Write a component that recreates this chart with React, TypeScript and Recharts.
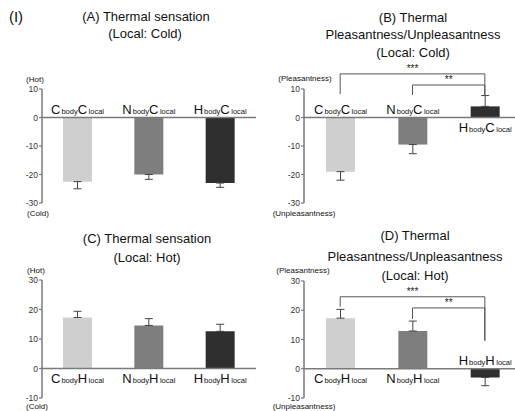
import React from 'react';
import { BarChart, Bar, XAxis, YAxis, Cell, ErrorBar, LabelList, ReferenceLine } from 'recharts';

// body condition of each bar (C = cold, N = neutral, H = hot)
const bodyConditions = ['C', 'N', 'H'];
const BAR_COLORS = ['#cfcfcf', '#7e7e7e', '#2f2f2f'];

// (A) thermal sensation, local cold
const sensationCold = [-22.5, -20, -23];
const sensationColdErr = [2.5, 1.7, 1.5];
// (B) pleasantness, local cold
const pleasantCold = [-19, -9.5, 3.9];
const pleasantColdErr = [3, 3.2, 3.8];
// (C) thermal sensation, local hot
const sensationHot = [17.3, 14.6, 12.6];
const sensationHotErr = [2.1, 2.3, 2.4];
// (D) pleasantness, local hot
const pleasantHot = [17.3, 12.9, -3];
const pleasantHotErr = [3, 3.4, 2.8];

const coldTicks = [-30, -20, -10, 0, 10];
const hotTicks = [-10, 0, 10, 20, 30];

// significance brackets: [from, to, height, left drop, right drop, stars]
const bracketsB: [string, string, number, number, number, string][] = [
  ['C', 'H', 15.3, 8.2, 7.6, '***'],
  ['N', 'H', 11.4, 7.9, 7.6, '**'],
];
const bracketsD: [string, string, number, number, number, string][] = [
  ['C', 'H', 24.6, 21.2, 9.6, '***'],
  ['N', 'H', 20.8, 17, 9.6, '**'],
];

const FONT = '"Liberation Sans", Arial, sans-serif';

const makeLabel = (local: string, values: number[]) => (props: any) => {
  const x = Number(props.x);
  const y = Number(props.y);
  const w = Number(props.width);
  const h = Number(props.height);
  const v = values[props.index];
  const top = Math.min(y, y + h);
  const bottom = Math.max(y, y + h);
  const ty = v < 0 ? top - 4 : bottom + 14;
  return (
    <text x={x + w / 2} y={ty} textAnchor="middle" fill="#111" fontFamily={FONT}>
      <tspan fontSize={13}>{props.value}</tspan>
      <tspan fontSize={7.5} dx={1}>body</tspan>
      <tspan fontSize={13}>{local}</tspan>
      <tspan fontSize={7.5} dx={1.5}>local</tspan>
    </text>
  );
};

interface PanelProps {
  left: number;
  top: number;
  width: number;
  height: number;
  marginTop: number;
  marginBottom: number;
  axisWidth: number;
  values: number[];
  errs: number[];
  domain: [number, number];
  ticks: number[];
  local: string;
  brackets?: [string, string, number, number, number, string][];
}

function Panel({ left, top, width, height, marginTop, marginBottom, axisWidth, values, errs, domain, ticks, local, brackets = [] }: PanelProps) {
  const data = bodyConditions.map((name, i) => ({
    name,
    value: values[i],
    errRange: values[i] < 0 ? [errs[i], 0] : [0, errs[i]],
  }));
  return (
    <div style={{ position: 'absolute', left, top }}>
      <BarChart width={width} height={height} data={data} margin={{ top: marginTop, bottom: marginBottom, left: 0, right: 0 }}>
        <XAxis dataKey="name" hide />
        <YAxis
          width={axisWidth}
          domain={domain}
          ticks={ticks}
          interval={0}
          tickSize={3}
          tickMargin={1}
          axisLine={{ stroke: '#7a7a7a', strokeWidth: 1.5 }}
          tickLine={{ stroke: '#7a7a7a', strokeWidth: 1.2 }}
          tick={{ fontSize: 8.5, fill: '#333', fontFamily: FONT }}
        />
        <Bar dataKey="value" barSize={29} isAnimationActive={false}>
          {data.map((d, i) => (
            <Cell key={d.name} fill={BAR_COLORS[i]} />
          ))}
          <ErrorBar dataKey="errRange" width={4} stroke="#444" strokeWidth={1} direction="y" />
          <LabelList dataKey="name" content={makeLabel(local, values)} />
        </Bar>
        <ReferenceLine y={0} stroke="#7a7a7a" strokeWidth={1.5} />
        {brackets.map(([from, to, yh, dl, dr, stars]) => (
          <React.Fragment key={from + to}>
            <ReferenceLine
              segment={[{ x: from, y: yh }, { x: to, y: yh }]}
              stroke="#555"
              strokeWidth={1}
              ifOverflow="visible"
              label={{ value: stars, position: 'top', fontSize: 10, fill: '#222', offset: 2, fontFamily: FONT }}
            />
            <ReferenceLine segment={[{ x: from, y: yh }, { x: from, y: dl }]} stroke="#555" strokeWidth={1} ifOverflow="visible" />
            <ReferenceLine segment={[{ x: to, y: yh }, { x: to, y: dr }]} stroke="#555" strokeWidth={1} ifOverflow="visible" />
          </React.Fragment>
        ))}
      </BarChart>
    </div>
  );
}

function Text({ x, y, children, size = 13 }: { x: number; y: number; children: React.ReactNode; size?: number }) {
  return (
    <div
      style={{
        position: 'absolute',
        left: x - 150,
        top: y - size * 0.6,
        width: 300,
        textAlign: 'center',
        fontSize: size,
        lineHeight: `${size * 1.2}px`,
        color: '#111',
        whiteSpace: 'nowrap',
      }}
    >
      {children}
    </div>
  );
}

export default function App() {
  return (
    <div style={{ position: 'absolute', left: 0, top: 0, width: 515, height: 411, overflow: 'hidden', background: '#fff', fontFamily: FONT }}>
      <Text x={16} y={17} size={15}>(I)</Text>

      <Text x={146} y={17}>(A) Thermal sensation</Text>
      <Text x={145} y={34}>(Local: Cold)</Text>
      <Text x={413} y={18}>(B) Thermal</Text>
      <Text x={413} y={35}>Pleasantness/Unpleasantness</Text>
      <Text x={413} y={53}>(Local: Cold)</Text>
      <Text x={147} y={239}>(C) Thermal sensation</Text>
      <Text x={147} y={258}>(Local: Hot)</Text>
      <Text x={415} y={236}>(D) Thermal</Text>
      <Text x={415} y={257}>Pleasantness/Unpleasantness</Text>
      <Text x={415} y={276}>(Local: Hot)</Text>

      <Text x={35} y={80} size={8}>(Hot)</Text>
      <Text x={38} y={214} size={8}>(Cold)</Text>
      <Text x={305} y={79} size={8}>(Pleasantness)</Text>
      <Text x={304} y={214} size={8}>(Unpleasantness)</Text>
      <Text x={36} y={271} size={8}>(Hot)</Text>
      <Text x={37} y={407} size={8}>(Cold)</Text>
      <Text x={303} y={271} size={8}>(Pleasantness)</Text>
      <Text x={304} y={407} size={8}>(Unpleasantness)</Text>

      <Panel left={0} top={0} width={256} height={230} marginTop={89} marginBottom={27} axisWidth={42}
        values={sensationCold} errs={sensationColdErr} domain={[-30, 10]} ticks={coldTicks} local="C" />
      <Panel left={255} top={0} width={266} height={230} marginTop={89} marginBottom={27} axisWidth={49}
        values={pleasantCold} errs={pleasantColdErr} domain={[-30, 10]} ticks={coldTicks} local="C" brackets={bracketsB} />
      <Panel left={0} top={205} width={256} height={206} marginTop={75} marginBottom={13} axisWidth={42}
        values={sensationHot} errs={sensationHotErr} domain={[-10, 30]} ticks={hotTicks} local="H" />
      <Panel left={255} top={205} width={266} height={206} marginTop={76} marginBottom={13} axisWidth={49}
        values={pleasantHot} errs={pleasantHotErr} domain={[-10, 30]} ticks={hotTicks} local="H" brackets={bracketsD} />
    </div>
  );
}
